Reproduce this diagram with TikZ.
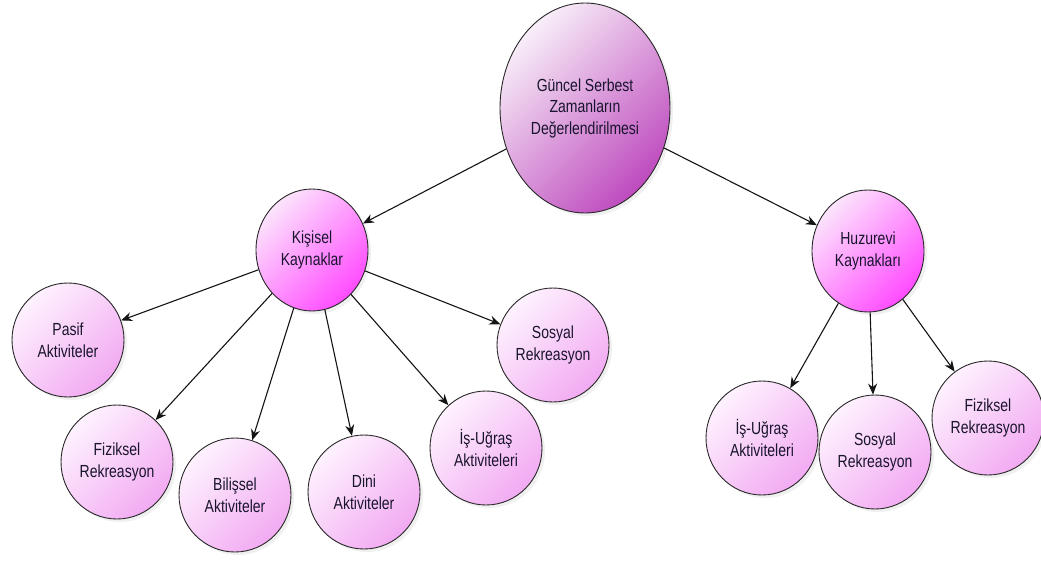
\documentclass[tikz,border=0pt]{standalone}
\usepackage{xcolor}
\usepackage{fontspec}
\newfontfamily\bubblefont[FakeStretch=0.8]{Liberation Sans}
\usepackage{tikz}
\usetikzlibrary{arrows.meta,shapes.geometric,shadows,positioning,calc}

\definecolor{rootlo}{RGB}{190,75,190}
\definecolor{roothi}{RGB}{248,238,248}
\definecolor{midlo}{RGB}{255,75,255}
\definecolor{midhi}{RGB}{252,228,252}
\definecolor{leaflo}{RGB}{242,170,242}
\definecolor{leafhi}{RGB}{254,242,254}
\definecolor{inktext}{RGB}{25,20,45}

\tikzset{
  bubble/.style={ellipse, draw={rgb,255:red,40;green,40;blue,40}, line width=0.9pt, inner sep=0pt,
    align=center, font=\bubblefont\fontsize{17.5}{21.5}\selectfont, text=inktext,
    drop shadow={opacity=0.12, shadow xshift=3pt, shadow yshift=-3pt}},
  rootbubble/.style={bubble, shading=axis, top color=roothi, bottom color=rootlo, shading angle=45,
    minimum width=170pt, minimum height=210pt},
  midbubble/.style={bubble, shading=axis, top color=midhi, bottom color=midlo, shading angle=45,
    minimum width=112pt, minimum height=122pt},
  leafbubble/.style={bubble, shading=axis, top color=leafhi, bottom color=leaflo, shading angle=45,
    minimum width=112pt, minimum height=114pt},
  link/.style={draw={rgb,255:red,20;green,20;blue,20}, line width=1.1pt, -{Stealth[length=11pt,width=9pt]}}
}

\begin{document}
\begin{tikzpicture}[x=1pt,y=1pt,yscale=-1,xscale=1]
	%set diagram left start at 0, and has height of 580
	\useasboundingbox (0,0) rectangle (1041,580);

	% Root
	\node [rootbubble] (guncel) at (585,108) {Güncel Serbest\\Zamanların\\Değerlendirilmesi};
	% Second level
	\node [midbubble] (kisisel) at (312,250) {Kişisel\\Kaynaklar};
	\node [midbubble] (huzurevi) at (868,251) {Huzurevi\\Kaynakları};
	% Leaves of Kişisel Kaynaklar
	\node [leafbubble] (pasif) at (68,340) {Pasif\\Aktiviteler};
	\node [leafbubble] (fizikselA) at (117,462) {Fiziksel\\Rekreasyon};
	\node [leafbubble] (bilissel) at (235,495) {Bilişsel\\Aktiviteler};
	\node [leafbubble] (dini) at (364,492) {Dini\\Aktiviteler};
	\node [leafbubble] (ugrasA) at (486,448) {İş-Uğraş\\Aktiviteleri};
	\node [leafbubble] (sosyalA) at (553,345) {Sosyal\\Rekreasyon};
	% Leaves of Huzurevi Kaynakları
	\node [leafbubble] (ugrasB) at (762,438) {İş-Uğraş\\Aktiviteleri};
	\node [leafbubble] (sosyalB) at (875,452) {Sosyal\\Rekreasyon};
	\node [leafbubble] (fizikselB) at (988,418) {Fiziksel\\Rekreasyon};

	% Connectors
	\draw [link] (guncel) -- (kisisel);
	\draw [link] (guncel) -- (huzurevi);
	\draw [link] (kisisel) -- (pasif);
	\draw [link] (kisisel) -- (fizikselA);
	\draw [link] (kisisel) -- (bilissel);
	\draw [link] (kisisel) -- (dini);
	\draw [link] (kisisel) -- (ugrasA);
	\draw [link] (kisisel) -- (sosyalA);
	\draw [link] (huzurevi) -- (ugrasB);
	\draw [link] (huzurevi) -- (sosyalB);
	\draw [link] (huzurevi) -- (fizikselB);
\end{tikzpicture}
\end{document}
